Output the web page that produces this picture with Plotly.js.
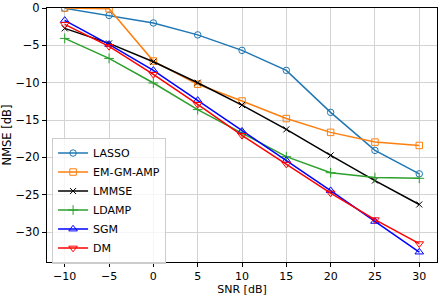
<!DOCTYPE html>
<html><head><meta charset="utf-8">
<script src="https://cdn.plot.ly/plotly-3.0.1.min.js"></script>
<style>html,body{margin:0;padding:0;background:#fff}#c{width:443px;height:296px}</style>
</head><body><div id="c"></div>
<script>
const snr = [-10, -5, 0, 5, 10, 15, 20, 25, 30];
const lasso = [-0.05, -0.99, -2.0, -3.6, -5.67, -8.35, -13.97, -19.06, -22.2];
const emgmamp = [0, -0.1, -7.1, -10.2, -12.45, -14.8, -16.65, -17.95, -18.4];
const lmmse = [-2.73, -4.74, -7.19, -10.0, -12.99, -16.25, -19.73, -23.1, -26.3];
const ldamp = [-4.07, -6.75, -10.04, -13.6, -16.75, -19.9, -22.05, -22.7, -22.8];
const sgm = [-1.66, -4.87, -8.35, -12.37, -16.5, -20.4, -24.45, -28.56, -32.67];
const dm = [-2.2, -5.14, -8.89, -12.9, -17.05, -20.9, -24.77, -28.34, -31.55];
const names = ["LASSO", "EM-GM-AMP", "LMMSE", "LDAMP", "SGM", "DM"];

const series = [lasso, emgmamp, lmmse, ldamp, sgm, dm];
const colors = ["#1f77b4", "#ff7f0e", "#000000", "#2ca02c", "#0000ff", "#ff0000"];
const symbols = ["circle-open", "square-open", "x-thin-open", "cross-thin-open", "triangle-up-open", "triangle-down-open"];
const msizes = [6.5, 6.5, 6, 7, 7.5, 7.5];

const traces = series.map((ys, i) => ({
  x: snr, y: ys, name: names[i], type: "scatter", mode: "lines+markers",
  line: {color: colors[i], width: 1.5},
  marker: {symbol: symbols[i], size: msizes[i], color: colors[i], line: {color: colors[i], width: 1}}
}));

const font = {family: "DejaVu Sans", size: 11.5, color: "#000"};
const xfont = {family: "DejaVu Sans", size: 11, color: "#000"};
const tfont = {family: "DejaVu Sans", size: 11, color: "#000"};
const layout = {
  width: 443, height: 296,
  margin: {l: 47, r: 6, t: 8, b: 34},
  paper_bgcolor: "#fff", plot_bgcolor: "#fff",
  font: font,
  showlegend: true,
  xaxis: {
    range: [-12, 32], tickvals: [-10, -5, 0, 5, 10, 15, 20, 25, 30],
    showgrid: true, gridcolor: "#d3d3d3", gridwidth: 1,
    zeroline: false, showline: true, linecolor: "#000", linewidth: 1, mirror: true,
    ticks: "outside", ticklen: 4, tickcolor: "#000", tickfont: xfont,
    title: {text: "SNR [dB]", font: tfont}
  },
  yaxis: {
    range: [-34, 0], tickvals: [0, -5, -10, -15, -20, -25, -30],
    showgrid: true, gridcolor: "#d3d3d3", gridwidth: 1,
    zeroline: false, showline: true, linecolor: "#000", linewidth: 1, mirror: true,
    ticks: "outside", ticklen: 4, tickcolor: "#000", tickfont: font,
    title: {text: "NMSE [dB]", font: {family: "DejaVu Sans", size: 11.5, color: "#000"}}
  },
  legend: {
    x: 0.013, y: 0.49, xanchor: "left", yanchor: "top",
    bgcolor: "rgba(255,255,255,0.8)", bordercolor: "#cccccc", borderwidth: 1,
    font: {family: "DejaVu Sans", size: 11, color: "#000"}, tracegroupgap: 0
  }
};
Plotly.newPlot("c", traces, layout, {staticPlot: true, displayModeBar: false});
</script></body></html>
